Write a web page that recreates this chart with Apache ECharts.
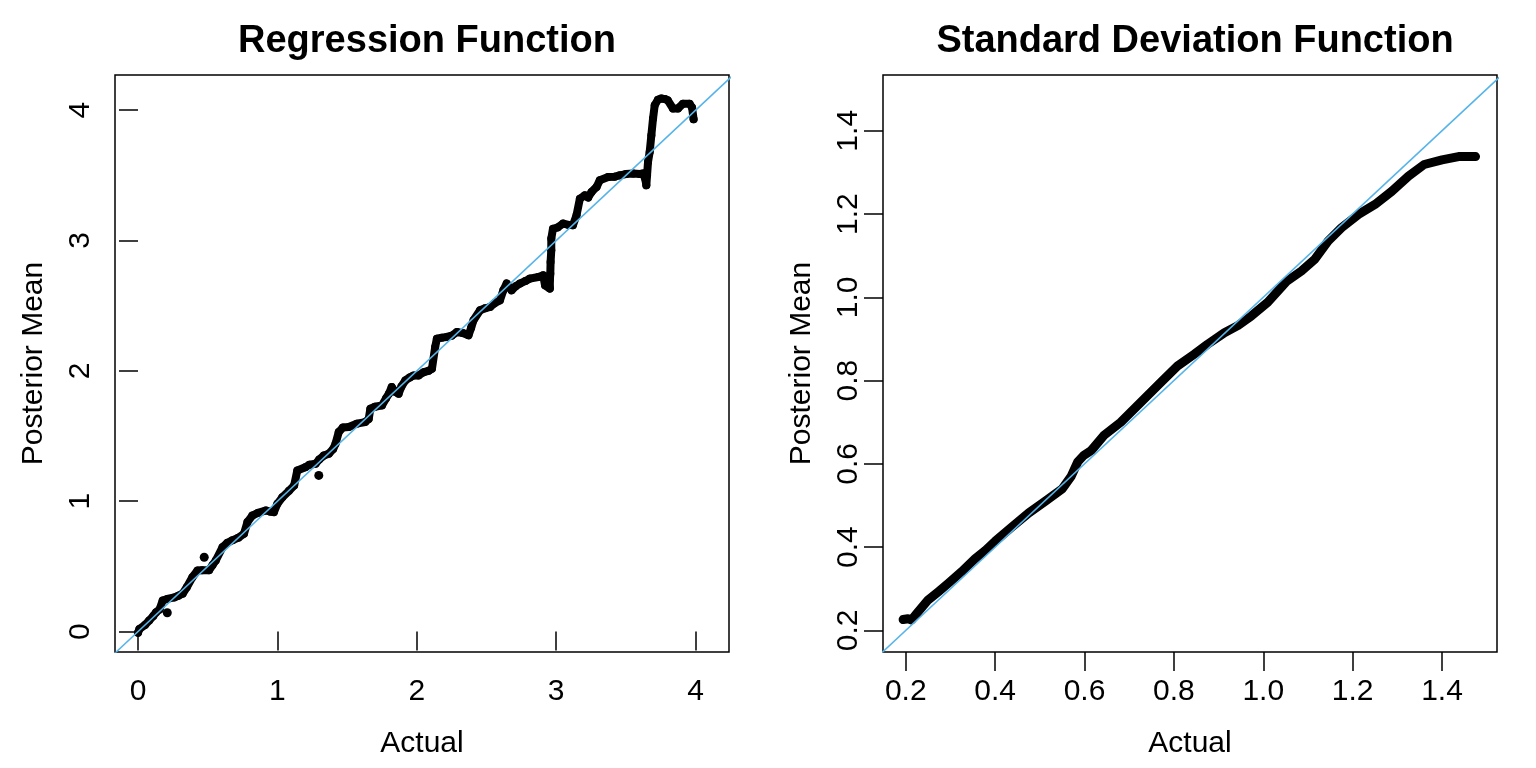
<!DOCTYPE html>
<html>
<head>
<meta charset="utf-8">
<script src="https://cdn.jsdelivr.net/npm/echarts@6/dist/echarts.min.js"></script>
<style>
html,body{margin:0;padding:0;background:#fff;}
#c{width:1536px;height:768px;}
</style>
</head>
<body>
<div id="c"></div>
<script>
// ---- Left panel: Regression Function ----
const regX = [0.00,0.01,0.05,0.08,0.11,0.13,0.155,0.177,0.21,0.26,0.29,0.32,0.35,0.39,0.427,0.46,0.51,0.535,0.558,0.606,0.64,0.677,0.72,0.76,0.785,0.82,0.86,0.916,0.95,0.975,1.00,1.035,1.083,1.12,1.143,1.20,1.23,1.274,1.30,1.333,1.369,1.40,1.417,1.44,1.47,1.512,1.57,1.63,1.655,1.667,1.70,1.75,1.78,1.80,1.82,1.845,1.87,1.89,1.918,1.95,1.977,2.013,2.05,2.085,2.109,2.132,2.144,2.18,2.216,2.25,2.288,2.33,2.371,2.39,2.407,2.454,2.49,2.526,2.56,2.597,2.621,2.645,2.68,2.71,2.74,2.78,2.812,2.872,2.907,2.92,2.955,2.955,2.958,2.96,2.965,2.965,2.977,3.01,3.05,3.09,3.12,3.146,3.17,3.206,3.23,3.254,3.29,3.313,3.373,3.42,3.456,3.50,3.552,3.60,3.623,3.64,3.647,3.652,3.659,3.671,3.683,3.695,3.707,3.73,3.754,3.78,3.80,3.838,3.874,3.91,3.957,3.975,3.986];
const regY = [-0.01,0.02,0.05,0.084,0.12,0.148,0.17,0.238,0.25,0.262,0.275,0.29,0.34,0.417,0.468,0.47,0.47,0.51,0.545,0.647,0.68,0.70,0.72,0.75,0.84,0.89,0.91,0.929,0.92,0.916,0.98,1.03,1.08,1.12,1.236,1.26,1.28,1.287,1.32,1.35,1.364,1.40,1.44,1.53,1.565,1.569,1.595,1.607,1.63,1.71,1.725,1.735,1.79,1.825,1.876,1.84,1.825,1.88,1.927,1.95,1.965,1.965,1.99,2.0,2.017,2.183,2.247,2.255,2.26,2.27,2.298,2.29,2.273,2.33,2.388,2.465,2.48,2.49,2.52,2.541,2.618,2.67,2.618,2.65,2.67,2.69,2.708,2.72,2.733,2.656,2.631,2.70,2.746,2.836,2.925,3.015,3.09,3.10,3.13,3.12,3.117,3.194,3.32,3.347,3.33,3.373,3.411,3.463,3.488,3.49,3.50,3.51,3.514,3.51,3.514,3.47,3.424,3.50,3.603,3.68,3.808,3.937,4.038,4.08,4.09,4.085,4.077,4.013,4.013,4.05,4.05,4.02,3.93];
const regOutX = [0.21,0.475,1.297];
const regOutY = [0.144,0.57,1.198];
const regTicks = [0,1,2,3,4];

// ---- Right panel: Standard Deviation Function ----
const sdX = [0.194,0.205,0.213,0.228,0.25,0.273,0.295,0.325,0.355,0.378,0.40,0.437,0.475,0.512,0.55,0.57,0.585,0.598,0.615,0.643,0.681,0.726,0.771,0.808,0.845,0.875,0.913,0.943,0.973,1.01,1.053,1.085,1.115,1.145,1.175,1.213,1.25,1.288,1.325,1.36,1.40,1.437,1.475];
const sdY = [0.226,0.228,0.225,0.245,0.273,0.293,0.313,0.341,0.372,0.392,0.414,0.448,0.482,0.51,0.54,0.57,0.605,0.62,0.632,0.668,0.70,0.748,0.796,0.835,0.863,0.887,0.915,0.932,0.955,0.988,1.039,1.063,1.091,1.135,1.167,1.199,1.223,1.255,1.291,1.319,1.33,1.338,1.338];
const sdTicks = [0.2,0.4,0.6,0.8,1.0,1.2,1.4];

// identity reference line end points (extend past the plot, clipped)
const refLeft = [-1, 5];
const refRight = [0, 2];

const FONT = "'Liberation Sans', Arial, Helvetica, sans-serif";
const zip = (a,b) => a.map((v,i)=>[v,b[i]]);

function xAxisCfg(idx, min, max, ticks, fmt, name) {
  return {
    type:'value', gridIndex:idx, min:min, max:max,
    name:name, nameLocation:'middle', nameGap:77,
    nameTextStyle:{fontFamily:FONT, fontSize:30, color:'#000'},
    axisLine:{show:false},
    splitLine:{show:false},
    axisTick:{show:true, inside:false, length:19, customValues:ticks, lineStyle:{color:'#000', width:1.5}},
    axisLabel:{show:true, customValues:ticks, formatter:fmt, margin:25, fontFamily:FONT, fontSize:30, color:'#000'}
  };
}
function yAxisCfg(idx, min, max, ticks, fmt, name) {
  return {
    type:'value', gridIndex:idx, min:min, max:max,
    name:name, nameLocation:'middle', nameGap:66, nameRotate:90,
    nameTextStyle:{fontFamily:FONT, fontSize:30, color:'#000'},
    axisLine:{show:false},
    splitLine:{show:false},
    axisTick:{show:true, inside:false, length:19, customValues:ticks, lineStyle:{color:'#000', width:1.5}},
    axisLabel:{show:true, customValues:ticks, formatter:fmt, rotate:90, margin:19, fontFamily:FONT, fontSize:30, color:'#000'}
  };
}

const fmtInt = v => String(Math.round(v));
const fmt1 = v => Number(v).toFixed(1);

const chart = echarts.init(document.getElementById('c'), null, {renderer:'canvas'});
chart.setOption({
  animation:false,
  backgroundColor:'#fff',
  title:[
    {text:'Regression Function', left:422, top:18, textAlign:'center',
     textStyle:{fontFamily:FONT, fontSize:38, fontWeight:'bold', color:'#000'}},
    {text:'Standard Deviation Function', left:1190, top:18, textAlign:'center',
     textStyle:{fontFamily:FONT, fontSize:38, fontWeight:'bold', color:'#000'}}
  ],
  grid:[
    {left:115, top:75, width:614, height:577, show:true, borderColor:'#000', borderWidth:1.5, backgroundColor:'transparent'},
    {left:883, top:75, width:614, height:577, show:true, borderColor:'#000', borderWidth:1.5, backgroundColor:'transparent'}
  ],
  xAxis:[
    xAxisCfg(0, -0.165, 4.24, regTicks, fmtInt, 'Actual'),
    xAxisCfg(1, 0.149, 1.523, sdTicks, fmt1, 'Actual')
  ],
  yAxis:[
    yAxisCfg(0, -0.157, 4.27, regTicks, fmtInt, 'Posterior Mean'),
    yAxisCfg(1, 0.148, 1.534, sdTicks, fmt1, 'Posterior Mean')
  ],
  series:[
    {type:'line', xAxisIndex:0, yAxisIndex:0, data:zip(regX,regY),
     showSymbol:true, symbol:'circle', symbolSize:8, itemStyle:{color:'#000'},
     lineStyle:{color:'#000', width:8, cap:'round', join:'round'}, z:2},
    {type:'scatter', xAxisIndex:0, yAxisIndex:0, data:zip(regOutX,regOutY),
     symbol:'circle', symbolSize:9, itemStyle:{color:'#000', opacity:1}, z:2},
    {type:'line', xAxisIndex:0, yAxisIndex:0, data:zip(refLeft,refLeft),
     showSymbol:false, clip:true, lineStyle:{color:'#56B4E9', width:1.6}, z:3},
    {type:'line', xAxisIndex:1, yAxisIndex:1, data:zip(sdX,sdY),
     showSymbol:false, itemStyle:{color:'#000'},
     lineStyle:{color:'#000', width:9, cap:'round', join:'round'}, z:2},
    {type:'line', xAxisIndex:1, yAxisIndex:1, data:zip(refRight,refRight),
     showSymbol:false, clip:true, lineStyle:{color:'#56B4E9', width:1.6}, z:3}
  ]
});
</script>
</body>
</html>
